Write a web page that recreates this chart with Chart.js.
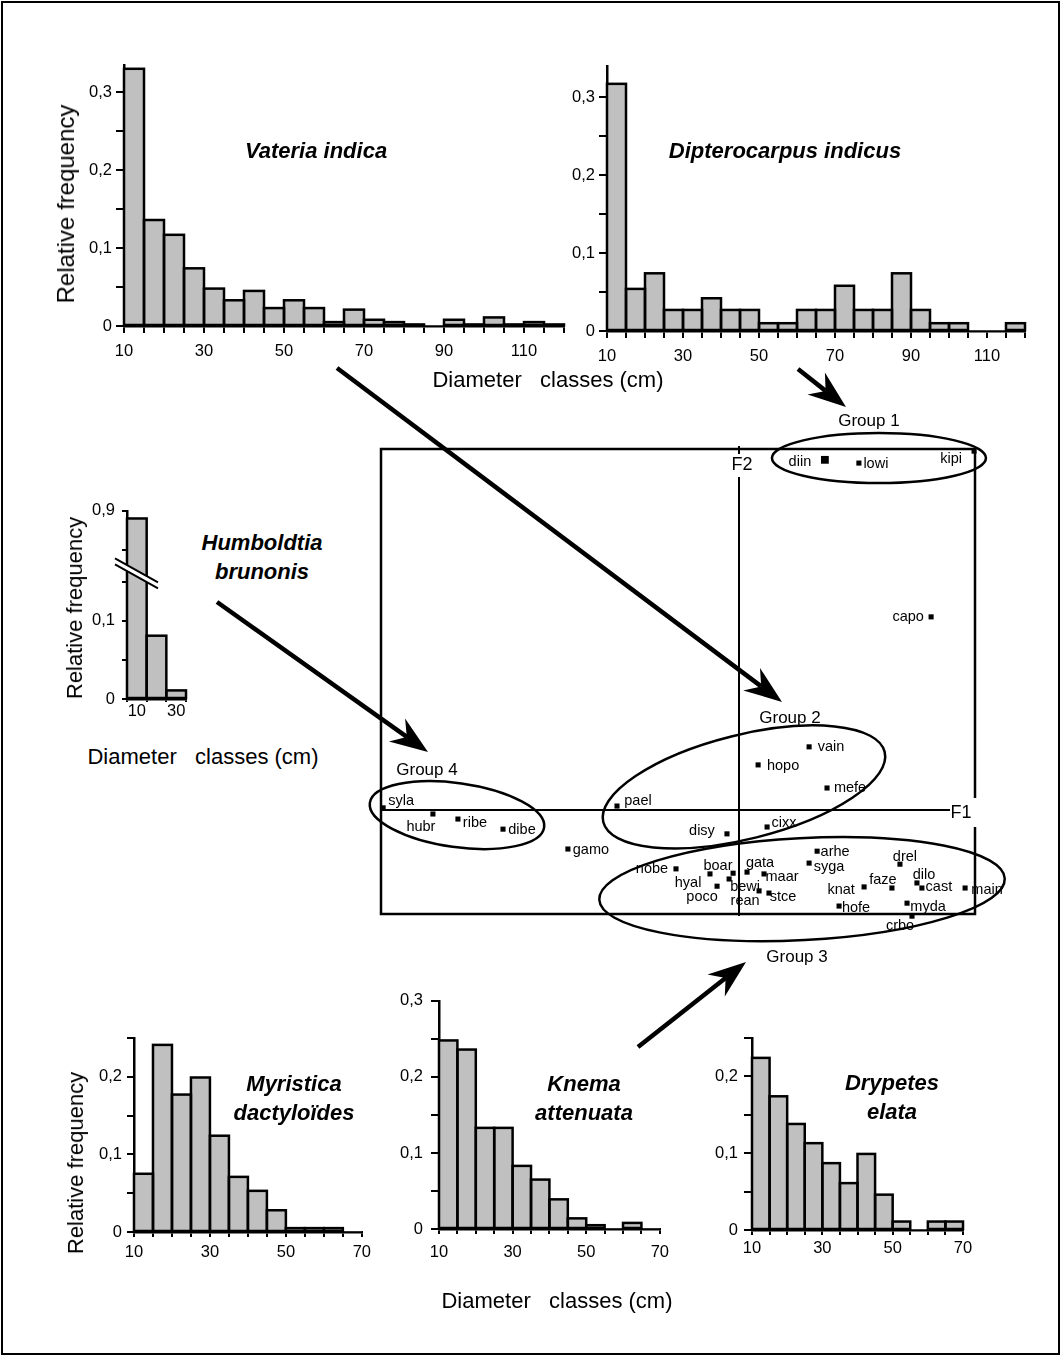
<!DOCTYPE html>
<html>
<head>
<meta charset="utf-8">
<script src="https://cdn.jsdelivr.net/npm/chart.js@4.4.1/dist/chart.umd.min.js"></script>
<style>
html,body{margin:0;padding:0;background:#fff;}
#page{position:relative;width:1062px;height:1357px;overflow:hidden;font-family:'Liberation Sans',Arial,sans-serif;color:#000;background:#fff;}
#page canvas{position:absolute;}
#border{position:absolute;left:1px;top:1px;width:1059px;height:1354px;box-sizing:border-box;border:2px solid #000;}
.t{position:absolute;transform:translate(-50%,-50%);white-space:pre;line-height:1;text-align:center;z-index:5;}
.bi{font-weight:bold;font-style:italic;font-size:22px;line-height:29px;}
.ax{font-size:22px;}
.rot{transform:translate(-50%,-50%) rotate(-90deg);}
#arrows{position:absolute;left:0;top:0;z-index:10;}
</style>
</head>
<body>
<div id="page">
<div id="border"></div>
</div>
<script>
// ---------------- DATA ----------------
const binWidth = 5;
const topBinStarts = [10,15,20,25,30,35,40,45,50,55,60,65,70,75,80,85,90,95,100,105,110,115];
const topAxisLabels = [10,30,50,70,90,110];
const vateriaFreq = [0.330,0.136,0.117,0.074,0.048,0.033,0.045,0.023,0.033,0.023,0.005,0.021,0.008,0.005,0.002,0,0.008,0.002,0.011,0.002,0.005,0.002];
const dipteroFreq = [0.317,0.054,0.074,0.027,0.027,0.042,0.027,0.027,0.010,0.010,0.027,0.027,0.058,0.027,0.027,0.074,0.027,0.010,0.010,0,0,0.010];

const humbClasses = ['10','20','30'];
const humbAxisLabels = ['10','30'];
const humbFreq = [0.89,0.081,0.011];

const bottomBinStarts = [10,15,20,25,30,35,40,45,50,55,60,65];
const bottomAxisLabels = [10,30,50,70];
const myristicaFreq = [0.075,0.241,0.177,0.199,0.124,0.071,0.053,0.028,0.005,0.005,0.005,0];
const knemaFreq = [0.248,0.236,0.133,0.133,0.083,0.065,0.039,0.014,0.005,0,0.008,0];
const drypetesFreq = [0.224,0.174,0.138,0.113,0.087,0.061,0.099,0.046,0.011,0,0.011,0.011];

const speciesCodes = ['diin','lowi','kipi','capo','vain','hopo','mefe','pael','syla','hubr','ribe','dibe','gamo','disy','cixx','arhe','syga','drel','nobe','boar','hyal','poco','bewi','rean','gata','maar','stce','knat','faze','dilo','cast','main','hofe','myda','crbo'];
const f1Scores = [0.364,0.508,0.996,0.814,0.297,0.081,0.373,-0.517,-1.508,-1.297,-1.191,-1.000,-0.725,-0.051,0.119,0.331,0.297,0.682,-0.267,-0.123,-0.093,-0.042,-0.025,0.085,0.034,0.106,0.127,0.530,0.648,0.754,0.775,0.958,0.424,0.712,0.733];
const f2Scores = [0.970,0.961,0.994,0.535,0.175,0.125,0.061,0.011,0.006,-0.011,-0.025,-0.053,-0.108,-0.066,-0.047,-0.114,-0.147,-0.150,-0.163,-0.177,-0.211,-0.191,-0.175,-0.224,-0.172,-0.177,-0.230,-0.213,-0.216,-0.202,-0.216,-0.216,-0.266,-0.258,-0.294];

const groupNames = ['Group 1','Group 2','Group 3','Group 4'];
const groupF1 = [0.593,0.021,0.267,-1.195];
const groupF2 = [0.975,0.064,-0.219,-0.014];

// ---------------- STYLE / LAYOUT ----------------
const FONT = "'Liberation Sans', Arial, sans-serif";
Chart.defaults.font.family = FONT;
Chart.defaults.font.size = 16.5;
Chart.defaults.color = '#000';
const BAR_FILL = '#c0c0c0';

const labelOffsets = {
  diin:[-25,2], lowi:[17,1], kipi:[-23,8], capo:[-23,0], vain:[22,0], hopo:[25,1], mefe:[23,0],
  pael:[21,-5], syla:[18,-7], hubr:[-12,13], ribe:[17,4], dibe:[19,1], gamo:[23,1], disy:[-25,-3],
  cixx:[17,-4], arhe:[18,1], syga:[20,4], drel:[5,-7], nobe:[-24,0], boar:[8,-8], hyal:[-29,-3],
  poco:[-27,18], bewi:[12,14], rean:[-14,10], gata:[13,-9], maar:[18,3], stce:[14,4], knat:[-23,3],
  faze:[-9,-8], dilo:[7,-8], cast:[17,-1], main:[22,2], hofe:[17,2], myda:[21,4], crbo:[-12,10]
};
const bigPoints = {diin:5.5};
const groupShapes = [
  {rx:107, ry:25, rot:0,   ldx:-10, ldy:-37},
  {rx:145, ry:52, rot:-14, ldx:46,  ldy:-69},
  {rx:203, ry:51, rot:-3,  ldx:-5,  ldy:68},
  {rx:88,  ry:32, rot:8,   ldx:-30, ldy:-45}
];

const page = document.getElementById('page');
function addCanvas(left, top, w, h) {
  const c = document.createElement('canvas');
  c.width = w; c.height = h;
  c.style.left = left + 'px'; c.style.top = top + 'px';
  c.style.width = w + 'px'; c.style.height = h + 'px';
  page.appendChild(c);
  return c;
}
function addText(txt, x, y, cls, size) {
  const d = document.createElement('div');
  d.className = 't ' + cls;
  d.textContent = txt;
  d.style.left = x + 'px'; d.style.top = y + 'px';
  if (size) d.style.fontSize = size + 'px';
  page.appendChild(d);
  return d;
}

const fmtY = v => {
  const r = Math.round(v * 100);
  if (r % 10 !== 0) return '';
  return r === 0 ? '0' : (r / 100).toFixed(1).replace('.', ',');
};
const keepStepTicks = s => {
  s.ticks = s.ticks.filter(t => Math.abs(t.value / 0.05 - Math.round(t.value / 0.05)) < 1e-6);
};

const outlinePlugin = {
  id: 'outline',
  afterDatasetsDraw(chart) {
    const ctx = chart.ctx;
    const meta = chart.getDatasetMeta(0);
    const vals = chart.data.datasets[0].data;
    ctx.save();
    ctx.strokeStyle = '#000';
    ctx.lineWidth = 2.5;
    meta.data.forEach((bar, i) => {
      const raw = vals[i];
      const v = (raw !== null && typeof raw === 'object') ? raw.y : raw;
      if (!v) return;
      const p = bar.getProps(['x', 'y', 'base', 'width'], true);
      ctx.strokeRect(p.x - p.width / 2, p.y, p.width, p.base - p.y);
    });
    ctx.restore();
  }
};

// broken value axis (for Humboldtia)
class BrokenScale extends Chart.LinearScale {
  static id = 'broken';
  static defaults = {};
  _fwd(v) {
    const lo = this.options.brkLo, hi = this.options.brkHi;
    if (v <= lo) return v;
    if (v >= hi) return v - hi + lo;
    return lo;
  }
  getPixelForValue(v) { return super.getPixelForValue(this._fwd(v)); }
  buildTicks() { return this.options.brkTicks.map(v => ({value: v})); }
}
Chart.register(BrokenScale);

function yAxis(yMax, yWidth, tl, pad) {
  return {
    type: 'linear', min: 0, max: yMax,
    ticks: {stepSize: 0.05, callback: fmtY, padding: pad, autoSkip: false, color: '#000'},
    grid: {drawOnChartArea: false, drawTicks: true, tickLength: tl, color: '#000', lineWidth: 2},
    border: {display: true, color: '#000', width: 2.5},
    afterBuildTicks: keepStepTicks,
    afterFit: s => { s.width = yWidth; }
  };
}
function xLinear(min, max, labels, tl, pad) {
  return {
    type: 'linear', min: min, max: max, offset: false,
    ticks: {stepSize: binWidth, autoSkip: false, maxRotation: 0, minRotation: 0, padding: pad,
            callback: v => labels.includes(v) ? String(v) : ''},
    grid: {offset: false, drawOnChartArea: false, drawTicks: true, tickLength: tl, color: '#000', lineWidth: 2},
    border: {display: true, color: '#000', width: 2.5},
    afterFit: s => { s.height = 40; }
  };
}
const baseOpts = {
  responsive: false, animation: false, events: [],
  plugins: {legend: {display: false}, tooltip: {enabled: false}}
};

function histogram(canvas, starts, values, xMin, xMax, axisLabels, yMax, g) {
  return new Chart(canvas, {
    type: 'bar',
    data: {datasets: [{
      data: starts.map((s, i) => ({x: s + binWidth / 2, y: values[i]})),
      backgroundColor: BAR_FILL, borderWidth: 0,
      barPercentage: 1, categoryPercentage: 1
    }]},
    options: Object.assign({}, baseOpts, {
      layout: {padding: {left: 0, top: g.padTop, right: g.padRight, bottom: 0}},
      scales: {
        x: xLinear(xMin, xMax, axisLabels, g.xTl, g.xPad),
        y: yAxis(yMax, g.yWidth, g.yTl, g.yPad)
      }
    }),
    plugins: [outlinePlugin]
  });
}

// ---------------- TOP HISTOGRAMS ----------------
histogram(addCanvas(44, 51, 530, 315), topBinStarts, vateriaFreq, 10, 120, topAxisLabels, 0.335,
  {padTop: 10, padRight: 10, yWidth: 80, yTl: 8, yPad: 4, xTl: 7, xPad: 9});
histogram(addCanvas(547, 52, 490, 319), topBinStarts, dipteroFreq, 10, 120, topAxisLabels, 0.34,
  {padTop: 10, padRight: 12, yWidth: 60, yTl: 8, yPad: 4, xTl: 7, xPad: 9});

// ---------------- HUMBOLDTIA (broken axis) ----------------
const breakPlugin = {
  id: 'brk',
  afterDraw(chart) {
    const ctx = chart.ctx, a = chart.chartArea, ys = chart.scales.y;
    const cy = ys.getPixelForValue(ys.options.brkLo) + 2;
    const cx = a.left + 10, slope = 0.56, gap = 6, x0 = a.left - 12, x1 = a.left + 31;
    const yAt = (x, off) => cy + slope * (x - cx) + off;
    ctx.save();
    ctx.fillStyle = '#fff';
    ctx.beginPath();
    ctx.moveTo(x0, yAt(x0, -gap / 2)); ctx.lineTo(x1, yAt(x1, -gap / 2));
    ctx.lineTo(x1, yAt(x1, gap / 2)); ctx.lineTo(x0, yAt(x0, gap / 2));
    ctx.closePath(); ctx.fill();
    ctx.strokeStyle = '#000'; ctx.lineWidth = 2;
    ctx.beginPath();
    ctx.moveTo(x0, yAt(x0, -gap / 2)); ctx.lineTo(x1, yAt(x1, -gap / 2));
    ctx.moveTo(x0, yAt(x0, gap / 2)); ctx.lineTo(x1, yAt(x1, gap / 2));
    ctx.stroke();
    ctx.restore();
  }
};
new Chart(addCanvas(57, 494, 143, 241), {
  type: 'bar',
  data: {labels: humbClasses, datasets: [{
    data: humbFreq, backgroundColor: BAR_FILL, borderWidth: 0, barPercentage: 1, categoryPercentage: 1
  }]},
  options: Object.assign({}, baseOpts, {
    layout: {padding: {left: 0, top: 10, right: 14, bottom: 0}},
    scales: {
      x: {
        type: 'category', offset: true,
        ticks: {autoSkip: false, maxRotation: 0, padding: 0,
                callback: function(v) { const l = this.getLabelForValue(v); return humbAxisLabels.includes(l) ? l : ''; }},
        grid: {offset: true, drawOnChartArea: false, drawTicks: true, tickLength: 3, color: '#000', lineWidth: 2},
        border: {display: true, color: '#000', width: 2.5},
        afterFit: s => { s.height = 36; }
      },
      y: {
        type: 'broken', min: 0, max: 0.2407, brkLo: 0.163, brkHi: 0.822,
        brkTicks: [0, 0.05, 0.1, 0.15, 0.85, 0.9],
        ticks: {callback: fmtY, padding: 7, autoSkip: false},
        grid: {drawOnChartArea: false, drawTicks: true, tickLength: 5, color: '#000', lineWidth: 2},
        border: {display: true, color: '#000', width: 2.5},
        afterFit: s => { s.width = 70; }
      }
    }
  }),
  plugins: [outlinePlugin, breakPlugin]
});

// ---------------- BOTTOM HISTOGRAMS ----------------
histogram(addCanvas(64, 1023, 313, 249), bottomBinStarts, myristicaFreq, 10, 70, bottomAxisLabels, 0.25,
  {padTop: 10, padRight: 14, yWidth: 70, yTl: 7, yPad: 5, xTl: 5, xPad: 6});
histogram(addCanvas(369, 983, 309, 286), bottomBinStarts, knemaFreq, 10, 70, bottomAxisLabels, 0.3,
  {padTop: 10, padRight: 14, yWidth: 70, yTl: 8, yPad: 8, xTl: 5, xPad: 9});
histogram(addCanvas(682, 1022, 295, 248), bottomBinStarts, drypetesFreq, 10, 70, bottomAxisLabels, 0.25,
  {padTop: 11, padRight: 14, yWidth: 70, yTl: 8, yPad: 6, xTl: 5, xPad: 4});

// ---------------- ORDINATION (F1 x F2) ----------------
const ordPlugin = {
  id: 'ord',
  beforeDatasetsDraw(chart) {
    const {ctx, chartArea: a, scales: {x, y}} = chart;
    const x0 = x.getPixelForValue(0), y0 = y.getPixelForValue(0);
    ctx.save();
    ctx.strokeStyle = '#000';
    ctx.lineWidth = 2.5;
    ctx.strokeRect(a.left, a.top, a.width, a.height);
    ctx.lineWidth = 2;
    ctx.beginPath();
    ctx.moveTo(x0, a.top - 3); ctx.lineTo(x0, a.bottom + 2);
    ctx.moveTo(a.left, y0); ctx.lineTo(a.right, y0);
    ctx.stroke();
    ctx.fillStyle = '#fff';
    ctx.fillRect(x0 - 11, a.top + 5, 24, 23);
    ctx.fillRect(a.right - 25, y0 - 12, 29, 29);
    ctx.fillStyle = '#000';
    ctx.font = '18px ' + FONT;
    ctx.textAlign = 'center'; ctx.textBaseline = 'middle';
    ctx.fillText('F2', x0 + 3, a.top + 16);
    ctx.fillText('F1', a.right - 14, y0 + 3);
    ctx.restore();
  },
  afterDatasetsDraw(chart) {
    const {ctx, scales: {x, y}} = chart;
    ctx.save();
    ctx.strokeStyle = '#000'; ctx.fillStyle = '#000';
    ctx.lineWidth = 2.5;
    ctx.textAlign = 'center'; ctx.textBaseline = 'middle';
    ctx.font = '17px ' + FONT;
    groupNames.forEach((name, i) => {
      const g = groupShapes[i];
      const cx = x.getPixelForValue(groupF1[i]), cy = y.getPixelForValue(groupF2[i]);
      ctx.beginPath();
      ctx.ellipse(cx, cy, g.rx, g.ry, g.rot * Math.PI / 180, 0, Math.PI * 2);
      ctx.stroke();
      ctx.fillText(name, cx + g.ldx, cy + g.ldy);
    });
    ctx.font = '14.5px ' + FONT;
    const meta = chart.getDatasetMeta(0);
    meta.data.forEach((pt, i) => {
      const code = speciesCodes[i];
      const off = labelOffsets[code] || [18, 0];
      ctx.fillText(code, pt.x + off[0], pt.y + off[1]);
    });
    ctx.restore();
  }
};
new Chart(addCanvas(340, 400, 722, 600), {
  type: 'scatter',
  data: {datasets: [{
    data: speciesCodes.map((c, i) => ({x: f1Scores[i], y: f2Scores[i]})),
    pointStyle: 'rect',
    pointRadius: ctx => bigPoints[speciesCodes[ctx.dataIndex]] || 3.6,
    backgroundColor: '#000', borderWidth: 0, clip: false
  }]},
  options: Object.assign({}, baseOpts, {
    layout: {padding: {left: 41, top: 49, right: 87, bottom: 86}},
    scales: {
      x: {type: 'linear', min: -1.517, max: 1.0, display: false},
      y: {type: 'linear', min: -0.288, max: 1.0, display: false}
    }
  }),
  plugins: [ordPlugin]
});

// ---------------- TEXTS ----------------
addText('Vateria indica', 316, 150, 'bi');
addText('Dipterocarpus indicus', 785, 150, 'bi');
addText('Humboldtia\nbrunonis', 262, 557, 'bi');
addText('Myristica\ndactyloïdes', 294, 1098, 'bi');
addText('Knema\nattenuata', 584, 1098, 'bi');
addText('Drypetes\nelata', 892, 1097, 'bi');

addText('Relative frequency', 66, 204, 'ax rot', 24);
addText('Relative frequency', 75, 608, 'ax rot', 22);
addText('Relative frequency', 76, 1163, 'ax rot', 22);
addText('Diameter   classes (cm)', 548, 380, 'ax');
addText('Diameter   classes (cm)', 203, 757, 'ax');
addText('Diameter   classes (cm)', 557, 1301, 'ax');

// ---------------- ARROWS (annotations) ----------------
const svgNS = 'http://www.w3.org/2000/svg';
const svg = document.createElementNS(svgNS, 'svg');
svg.setAttribute('id', 'arrows');
svg.setAttribute('width', 1062); svg.setAttribute('height', 1357);
page.appendChild(svg);
const arrowPaths = [
  [337, 368, 782, 702],
  [798, 369, 846, 407],
  [217, 602, 428, 752],
  [638, 1047, 746, 962]
];
arrowPaths.forEach(([x1, y1, x2, y2]) => {
  const dx = x2 - x1, dy = y2 - y1, L = Math.hypot(dx, dy);
  const ux = dx / L, uy = dy / L, px = -uy, py = ux;
  const back = 38, notch = 26, half = 14;
  const line = document.createElementNS(svgNS, 'line');
  line.setAttribute('x1', x1); line.setAttribute('y1', y1);
  line.setAttribute('x2', x2 - ux * notch); line.setAttribute('y2', y2 - uy * notch);
  line.setAttribute('stroke', '#000'); line.setAttribute('stroke-width', 4.5);
  svg.appendChild(line);
  const pts = [
    [x2, y2],
    [x2 - ux * back + px * half, y2 - uy * back + py * half],
    [x2 - ux * notch, y2 - uy * notch],
    [x2 - ux * back - px * half, y2 - uy * back - py * half]
  ];
  const poly = document.createElementNS(svgNS, 'polygon');
  poly.setAttribute('points', pts.map(p => p[0].toFixed(1) + ',' + p[1].toFixed(1)).join(' '));
  poly.setAttribute('fill', '#000');
  svg.appendChild(poly);
});
</script>
</body>
</html>
